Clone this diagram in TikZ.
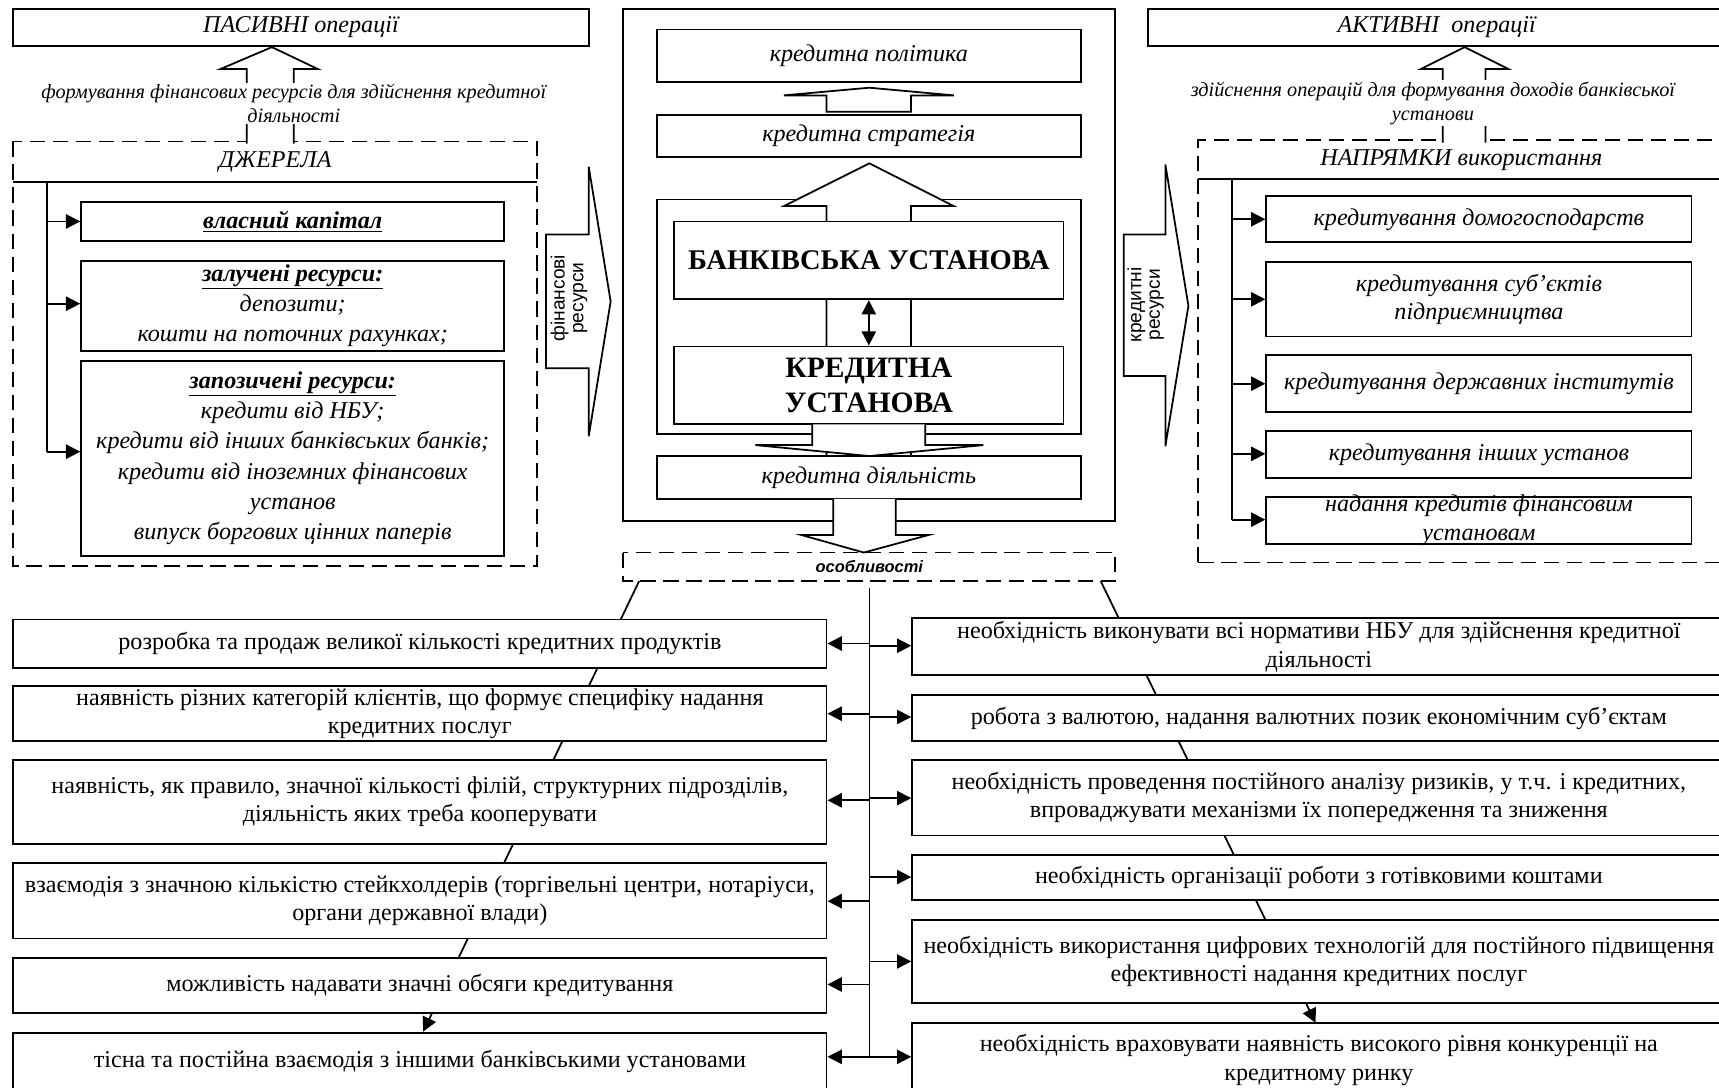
\documentclass[tikz,border=0pt]{standalone}
\usepackage{fontspec}
\setmainfont{Liberation Serif}
\setsansfont{Liberation Sans}
\usetikzlibrary{arrows.meta}
\newcommand\fs[2]{\fontsize{#1}{#2}\selectfont}
\newcommand\bx[7][]{\node[box,minimum width={#5-#3},minimum height={#6-#4},#1] (#2) at ({(#3+#5)/2},{(#4+#6)/2}) {#7};}
\begin{document}
\begin{tikzpicture}[x=1pt,y=-1pt,
  lw/.style={line width=1.6pt},
  box/.style={draw,lw,fill=white,inner sep=1pt,align=center},
  dbox/.style={draw,lw,dash pattern=on 14pt off 7pt},
  arr/.style={lw,-{Triangle[length=13pt,width=13pt]}},
  darr/.style={lw,{Triangle[length=13pt,width=13pt]}-{Triangle[length=13pt,width=13pt]}},
  blk/.style={draw,lw,fill=white,line join=miter},
  itl/.style={font=\fs{22}{27.5}\itshape},
  itr/.style={font=\fs{22}{26}\itshape},
  lbl/.style={font=\fs{18.5}{22}\itshape,align=center,fill=white,inner sep=1pt},
  bt/.style={font=\fs{22}{26}},
  rot/.style={rotate=90,font=\sffamily\fs{17.5}{17},align=center,inner sep=0pt},
  ]
\useasboundingbox (0,0) rectangle (1568,992.4);
\clip (0,0) rectangle (1568,992.4);
\fill[white] (0,0) rectangle (1568,992.4);

% ---------- diagonal connectors (behind) ----------
\coordinate (dl0) at (583,530);
\coordinate (dl1) at (386,941);
\coordinate (dr0) at (1004,530);
\coordinate (dr1) at (1200,933);
\draw[arr] (dl0) -- (dl1);
\draw[arr] (dr0) -- (dr1);

% ---------- left top ----------
\bx[itl]{pas}{12}{8}{537}{42}{ПАСИВНІ операції}
\draw[dbox] (12,129) rectangle (490,516);
\draw[lw] (12,166) -- (490,166);
\node[itl] (dzh) at (251,148) {ДЖЕРЕЛА};
\filldraw[blk] (225,131) -- (225,63) -- (201,63) -- (248,43) -- (290,63) -- (268,63) -- (268,131);
\node[lbl] (lblL) at (268,94) {формування фінансових ресурсів для здійснення кредитної\\діяльності};

\bx[itl]{vk}{74}{184}{460}{220}{\textbf{\underline{власний капітал}}}
\bx[itl]{zal}{74}{238}{460}{320}{\textbf{\underline{залучені ресурси:}}\\депозити;\\кошти на поточних рахунках;}
\bx[itl]{zap}{74}{329}{460}{507}{\textbf{\underline{запозичені ресурси:}}\\кредити від НБУ;\\кредити від інших банківських банків;\\кредити від іноземних фінансових\\установ\\випуск боргових цінних паперів}
\coordinate (tL0) at (43,166);
\coordinate (tL1) at (43,202);
\coordinate (tL2) at (43,277);
\coordinate (tL3) at (43,412);
\draw[lw] (tL0) -- (tL3);
\draw[arr] (tL1) -- (tL1 -| vk.west);
\draw[arr] (tL2) -- (tL2 -| zal.west);
\draw[arr] (tL3) -- (tL3 -| zap.west);

% financial resources arrow
\filldraw[blk] (498,214) -- (537,214) -- (537,152) -- (557,275) -- (537,398) -- (537,336) -- (498,336) -- cycle;
\node[rot] (finr) at (519,272) {фінансові\\ресурси};

% ---------- middle ----------
\draw[lw] (568,8) rectangle (1017,475);
\bx[itl]{pol}{599}{27}{986}{75}{кредитна політика}
\filldraw[blk] (754,102) -- (754,87) -- (715,87) -- (793,80) -- (870,87) -- (831,87) -- (831,102) -- cycle;
\bx[itl]{str}{599}{105}{986}{143}{кредитна стратегія}
\draw[lw] (599,182) rectangle (986,396);
\filldraw[blk] (754,416) -- (754,188) -- (715,188) -- (793,149) -- (870,188) -- (831,188) -- (831,416);
\bx[font=\bfseries\fs{26}{30}]{bank}{615}{202}{970}{273}{БАНКІВСЬКА УСТАНОВА}
\bx[font=\bfseries\fs{27}{32}]{kred}{615}{316}{970}{387}{КРЕДИТНА\\УСТАНОВА}
\draw[darr] (bank.south) -- (kred.north);
\bx[itl]{dil}{599}{416}{986}{455}{кредитна діяльність}
\filldraw[blk] (741,387) -- (741,406) -- (689,406) -- (793,416) -- (897,406) -- (844,406) -- (844,387);
\filldraw[blk] (760,455) -- (760,488) -- (731,488) -- (788,504) -- (847,488) -- (817,488) -- (817,455);
\draw[dbox] (568,504) rectangle (1017,530);
\node[font=\sffamily\bfseries\itshape\fs{15}{15}] (osob) at (793,517) {особливості};

% ---------- right top ----------
\bx[itl]{akt}{1047}{8}{1574}{42}{АКТИВНІ~ операції}
\draw[dbox] (1093,513) -- (1093,128) -- (1600,128);
\draw[dbox] (1093,513) -- (1600,513);
\draw[lw] (1093,163) -- (1600,163);
\node[itl] (napr) at (1333,146) {НАПРЯМКИ використання};
\filldraw[blk] (1316,130) -- (1316,63) -- (1296,63) -- (1336,43) -- (1376,63) -- (1355,63) -- (1355,130);
\node[lbl] (lblR) at (1307,94) {здійснення операцій для формування доходів банківської\\установи};

\bx[itr]{dom}{1155}{179}{1543}{221}{кредитування домогосподарств}
\bx[itr]{sub}{1155}{239}{1543}{307}{кредитування суб’єктів\\підприємництва}
\bx[itr]{der}{1155}{324}{1543}{376}{кредитування державних інститутів}
\bx[itr]{inh}{1155}{393}{1543}{436}{кредитування інших установ}
\bx[itr]{nad}{1155}{453}{1543}{496}{}
\node[itr,align=center,inner sep=0pt] (nadt) at (nad.center) {надання кредитів фінансовим\\установам};
\coordinate (tR0) at (1124,163);
\coordinate (tR1) at (1124,200);
\coordinate (tR2) at (1124,273);
\coordinate (tR3) at (1124,350);
\coordinate (tR4) at (1124,414);
\coordinate (tR5) at (1124,474);
\draw[lw] (tR0) -- (tR5);
\draw[arr] (tR1) -- (tR1 -| dom.west);
\draw[arr] (tR2) -- (tR2 -| sub.west);
\draw[arr] (tR3) -- (tR3 -| der.west);
\draw[arr] (tR4) -- (tR4 -| inh.west);
\draw[arr] (tR5) -- (tR5 -| nad.west);

% credit resources arrow
\filldraw[blk] (1025,214) -- (1063,214) -- (1063,150) -- (1084,279) -- (1063,407) -- (1063,343) -- (1025,343) -- cycle;
\node[rot] (kredr) at (1045,278) {кредитні\\ресурси};

% ---------- bottom ----------
\bx[bt]{L1}{12}{565}{754}{609}{розробка та продаж великої кількості кредитних продуктів}
\bx[bt]{L2}{12}{626}{754}{676}{наявність різних категорій клієнтів, що формує специфіку надання\\кредитних послуг}
\bx[bt]{L3}{12}{693}{754}{770}{наявність, як правило, значної кількості філій, структурних підрозділів,\\діяльність яких треба кооперувати}
\bx[bt]{L4}{12}{787}{754}{856}{взаємодія з значною кількістю стейкхолдерів (торгівельні центри, нотаріуси,\\органи державної влади)}
\bx[bt]{L5}{12}{874}{754}{924}{можливість надавати значні обсяги кредитування}
\bx[bt,text depth=30pt]{L6}{12}{942}{754}{1020}{тісна та постійна взаємодія з іншими банківськими установами}

\bx[bt]{R1}{832}{564}{1574}{616}{необхідність виконувати всі нормативи НБУ для здійснення кредитної\\діяльності}
\bx[bt]{R2}{832}{634}{1574}{676}{робота з валютою, надання валютних позик економічним суб’єктам}
\bx[bt]{R3}{832}{693}{1574}{762}{необхідність проведення постійного аналізу ризиків, у т.ч. і кредитних,\\впроваджувати механізми їх попередження та зниження}
\bx[bt]{R4}{832}{780}{1574}{821}{необхідність організації роботи з готівковими коштами}
\bx[bt]{R5}{832}{839}{1574}{915}{необхідність використання цифрових технологій для постійного підвищення\\ефективності надання кредитних послуг}
\bx[bt,text depth=24pt]{R6}{832}{933}{1574}{1020}{необхідність враховувати наявність високого рівня конкуренції на\\кредитному ринку}

\coordinate (t0) at (793,536);
\coordinate (t6) at (793,964);
\draw[lw] (t0) -- (t6);
\foreach \n/\y in {1/587,2/651,3/730,4/822,5/898,6/964}{
  \coordinate (tl\n) at (793,\y);
  \draw[arr] (tl\n) -- (tl\n -| L\n.east);
}
\foreach \n/\y in {1/589,2/654,3/728,4/800,5/877,6/964}{
  \coordinate (tr\n) at (793,\y);
  \draw[arr] (tr\n) -- (tr\n -| R\n.west);
}
\end{tikzpicture}
\end{document}
